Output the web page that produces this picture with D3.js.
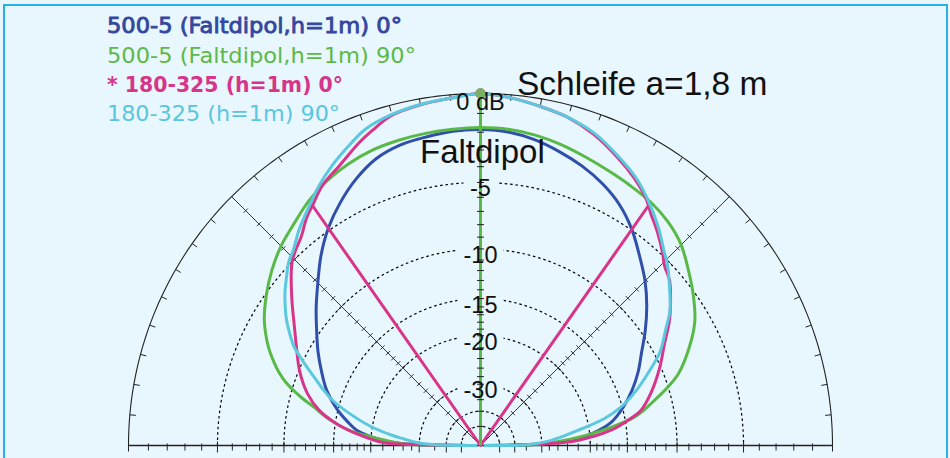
<!DOCTYPE html>
<html>
<head>
<meta charset="utf-8">
<script src="https://cdn.jsdelivr.net/npm/d3@7"></script>
<style>
  html, body { margin: 0; padding: 0; background: #e8f6fd; }
  svg { display: block; }
</style>
</head>
<body>
<svg id="chart" width="950" height="458"></svg>
<script>
// ---- Pattern data: azimuth in degrees (0 = main direction, + = right), level in dB ----
const blueAngles = [-90,-89.5,-88.5,-87,-85,-83,-80,-77,-75,-70,-65,-60,-55,-50,-45,-40,-35,-30,-25,-20,-15,-10,-5,0,5,10,15,20,25,30,35,40,45,50,55,60,65,70,75,80,83,85,87,88.5,89.5,90];
const blueDb     = [-80,-35,-25.5,-22,-19.5,-17.8,-16.5,-15.3,-14.6,-13.1,-11.95,-10.8,-9.7,-8.5,-7.3,-6.0,-4.85,-3.9,-3.08,-2.45,-2.13,-2.0,-1.88,-1.85,-1.92,-2.15,-2.5,-2.9,-3.4,-4.05,-4.95,-6.05,-7.1,-8.3,-9.6,-10.95,-12.1,-13.4,-14.9,-16.75,-18.8,-20.7,-23.8,-29,-35,-80];

const greenAngles = [-90,-89.5,-88.5,-86,-83.5,-80,-77,-75,-72,-70,-68,-65,-60,-55,-50,-45,-40,-35,-30,-25,-20,-15,-10,-5,0,5,10,15,20,25,30,35,40,45,50,55,60,65,70,73,75,78,80,82,85.3,88.2,89.5,90];
const greenDb     = [-80,-35,-25.5,-20.9,-16.9,-14.1,-12.4,-11.0,-9.3,-8.5,-7.85,-7.0,-5.9,-5.1,-4.4,-3.8,-3.33,-2.8,-2.4,-2.12,-1.93,-1.85,-1.8,-1.77,-1.75,-1.77,-1.9,-2.1,-2.35,-2.57,-2.75,-2.92,-3.22,-3.7,-4.45,-5.2,-6.05,-7.3,-8.8,-10.2,-11.3,-12.9,-14.3,-16.8,-22,-29,-35,-80];

const pinkAngles = [-90,-89,-88.2,-84.5,-81.3,-77.7,-73.3,-67.5,-62,-57.6,-51.2,-45.5,-40.4,-37.5,-35,-31.3,-26.7,-21.8,-19,-15,-10,-5,0,5,10,15,20,25.5,30,33.3,35,36.1,39.7,43.3,45.6,48.9,52.7,56.5,61,66.5,73,77.7,80.3,83.4,87,88.5,90];
const pinkDb     = [-80,-30,-22,-17.8,-15.1,-13.0,-11.45,-10.06,-9.0,-8.04,-6.4,-4.95,-4.18,-3.56,-3.15,-2.5,-1.99,-1.3,-0.95,-0.5,-0.3,-0.17,0,-0.15,-0.38,-0.62,-1.05,-1.7,-2.28,-2.8,-3.15,-3.42,-4.11,-4.85,-5.37,-5.81,-6.65,-7.56,-8.83,-10.1,-11.7,-13.1,-14.7,-17.0,-22.1,-29.3,-80];
// the 0° trace drops to the origin between these two azimuths
const pinkDropAngles = [-35, 35];

const cyanAngles = [-90,-89,-87.3,-85,-83.5,-80,-76.3,-73,-70,-68,-65,-62,-60,-57,-55,-52,-50,-46,-44,-40,-35.5,-32,-28,-24,-20,-15,-10,-5,0,5,10,15,20,25,30,34,39,43.5,46,50,54.5,58,62.5,66.7,71,74.8,77.7,81.2,86,89,90];
const cyanDb     = [-80,-35,-29.2,-26,-23.7,-19.6,-16.5,-14.1,-12.6,-11.7,-10.2,-8.75,-8.1,-7.2,-6.7,-6.0,-5.6,-4.8,-4.55,-3.8,-3.05,-2.43,-1.82,-1.28,-0.77,-0.46,-0.28,-0.17,0,-0.15,-0.38,-0.62,-0.98,-1.56,-2.18,-2.85,-3.8,-4.75,-5.2,-6.1,-7.1,-8.2,-9.5,-11.3,-13.2,-15.2,-17.5,-21.9,-27.7,-35,-80];

const legendLabels = ["500-5 (Faltdipol,h=1m) 0°", "500-5 (Faltdipol,h=1m) 90°", "* 180-325 (h=1m) 0°", "180-325 (h=1m) 90°"];

// ---- Grid definition ----
const ringLevels  = [-5, -10, -15, -20, -30, -40, -50];
const labelLevels = [0, -5, -10, -15, -20, -30];
const labelTexts  = ["0 dB", "-5", "-10", "-15", "-20", "-30"];
const tickLevels  = [-1,-2,-3,-4,-5,-6,-7,-8,-9,-10,-11,-12,-13,-14,-15,-16,-17,-18,-19,-20,-22,-24,-26,-28,-30,-35,-40,-50];
const rimTickAngles = [-85,-80,-75,-70,-65,-60,-55,-50,-45,-40,-35,-30,-25,-20,-15,-10,-5,0,5,10,15,20,25,30,35,40,45,50,55,60,65,70,75,80,85];
const spokeAngles = [-45, 45];

// ---- Layout ----
const W = 950, H = 458;
const cx = 480.5, cy = 445.5, R = 352;
const BG = "#e8f6fd";

const svg = d3.select("#chart");
svg.append("rect").attr("width", W).attr("height", H).attr("fill", BG);
svg.append("rect").attr("x", 4).attr("y", 5).attr("width", 943).attr("height", 470)
  .attr("fill", "none").attr("stroke", "#2aaee4").attr("stroke-width", 2);

const g = svg.append("g").attr("transform", `translate(${cx},${cy})`);

// ARRL-style logarithmic radius: every 2 dB down shrinks the radius by 0.89
const logRadius = d3.scaleLinear().domain([0, -2]).range([Math.log(R), Math.log(R * 0.89)]);
const rScale = d => (d === null ? 0 : Math.exp(logRadius(d)));
const angle = d3.scaleLinear().domain([-90, 90]).range([-Math.PI / 2, Math.PI / 2]);
const pt = (deg, r) => [r * Math.sin(angle(deg)), -r * Math.cos(angle(deg))];

const arcLine = d3.lineRadial().angle(d => angle(d)).curve(d3.curveLinear);
const halfCircle = d3.range(-90, 90.5, 1);

// dotted level rings
ringLevels.forEach(lv => {
  g.append("path")
    .attr("d", arcLine.radius(rScale(lv))(halfCircle))
    .attr("fill", "none").attr("stroke", "#000").attr("stroke-width", 1.2)
    .attr("stroke-dasharray", "2.6,2.8");
});

// outer 0 dB rim
g.append("path")
  .attr("d", arcLine.radius(R)(halfCircle))
  .attr("fill", "none").attr("stroke", "#222").attr("stroke-width", 1.1);

// rim ticks (inward)
rimTickAngles.forEach(a => {
  const p1 = pt(a, R), p2 = pt(a, R - 6);
  g.append("line").attr("x1", p1[0]).attr("y1", p1[1]).attr("x2", p2[0]).attr("y2", p2[1])
    .attr("stroke", "#222").attr("stroke-width", 1);
});

// baseline (±90°)
g.append("line").attr("x1", -R).attr("y1", 0).attr("x2", R).attr("y2", 0)
  .attr("stroke", "#222").attr("stroke-width", 1.3);
tickLevels.forEach(lv => {
  const r = rScale(lv);
  const big = ringLevels.includes(lv);
  [-1, 1].forEach(s => {
    g.append("line").attr("x1", s * r).attr("x2", s * r)
      .attr("y1", big ? -4 : -2).attr("y2", big ? 7 : 5)
      .attr("stroke", "#222").attr("stroke-width", 1);
  });
});
// rim end ticks on baseline
[-1, 1].forEach(s => {
  g.append("line").attr("x1", s * R).attr("x2", s * R).attr("y1", -4).attr("y2", 6)
    .attr("stroke", "#222").attr("stroke-width", 1);
});

// 45° spokes with crossing ticks
spokeAngles.forEach(a => {
  const end = pt(a, R);
  g.append("line").attr("x1", 0).attr("y1", 0).attr("x2", end[0]).attr("y2", end[1])
    .attr("stroke", "#222").attr("stroke-width", 0.9);
  const nx = Math.cos(angle(a)), ny = Math.sin(angle(a));
  tickLevels.forEach(lv => {
    const p = pt(a, rScale(lv));
    const t = ringLevels.includes(lv) ? 6 : 3;
    g.append("line")
      .attr("x1", p[0] - nx * t).attr("y1", p[1] - ny * t)
      .attr("x2", p[0] + nx * t).attr("y2", p[1] + ny * t)
      .attr("stroke", "#222").attr("stroke-width", 0.9);
  });
});

// background patches behind the level labels
const labelPos = labelLevels.map(lv => lv === 0 ? -R + 16 : -rScale(lv) + 14);
labelLevels.forEach((lv, i) => {
  if (lv === 0) return;
  const wEst = labelTexts[i].length * 12 + 6;
  g.append("rect").attr("x", -wEst / 2 - 2).attr("y", labelPos[i] - 20)
    .attr("width", wEst + 4).attr("height", 24).attr("fill", BG);
});

// ---- Pattern traces ----
const trace = d3.lineRadial()
  .angle(d => angle(d[0]))
  .radius(d => rScale(d[1]))
  .curve(d3.curveCatmullRom.alpha(0.5));
const zipSeries = (as, vs) => as.map((a, i) => [a, vs[i]]);

function drawTrace(as, vs, color) {
  g.append("path").attr("d", trace(zipSeries(as, vs)))
    .attr("fill", "none").attr("stroke", color).attr("stroke-width", 3)
    .attr("stroke-linejoin", "round");
}

drawTrace(blueAngles, blueDb, "#2f4fab");
drawTrace(greenAngles, greenDb, "#58b947");
drawTrace(pinkAngles, pinkDb, "#d8348a");

// drop of the 0° trace to the origin
const dropLine = d3.lineRadial().angle(d => angle(d[0])).radius(d => rScale(d[1])).curve(d3.curveLinear);
const dropPts = [
  [pinkDropAngles[0], pinkDb[pinkAngles.indexOf(pinkDropAngles[0])]],
  [0, null],
  [pinkDropAngles[1], pinkDb[pinkAngles.indexOf(pinkDropAngles[1])]]
];
g.append("path").attr("d", dropLine(dropPts))
  .attr("fill", "none").attr("stroke", "#d8348a").attr("stroke-width", 3).attr("stroke-linejoin", "round");

drawTrace(cyanAngles, cyanDb, "#5bc8de");

// vertical (0°) axis
g.append("line").attr("x1", 0).attr("y1", 0).attr("x2", 0).attr("y2", -R)
  .attr("stroke", "#58b947").attr("stroke-width", 3);
tickLevels.forEach(lv => {
  const y = -rScale(lv);
  g.append("line").attr("x1", -3.5).attr("x2", 3.5).attr("y1", y).attr("y2", y)
    .attr("stroke", "#222").attr("stroke-width", 1);
});

// marker at 0 dB
g.append("circle").attr("cx", 0).attr("cy", -R).attr("r", 5)
  .attr("fill", "#78b160").attr("stroke", "#8a9a80").attr("stroke-width", 1);

// level labels
labelLevels.forEach((lv, i) => {
  g.append("text").attr("x", 0).attr("y", labelPos[i])
    .attr("text-anchor", "middle")
    .attr("font-family", "Liberation Sans, Arial, sans-serif")
    .attr("font-size", 23.5).attr("fill", "#111")
    .text(labelTexts[i]);
});

// annotations
svg.append("text").attr("x", 420).attr("y", 163)
  .attr("font-family", "Liberation Sans, Arial, sans-serif").attr("font-size", 33)
  .attr("fill", "#111").text("Faltdipol");
svg.append("text").attr("x", 517).attr("y", 95)
  .attr("font-family", "Liberation Sans, Arial, sans-serif").attr("font-size", 33.5)
  .attr("fill", "#111").text("Schleife a=1,8 m");

// legend
const legendColors = ["#34479f", "#5cb947", "#d6358a", "#58c6dc"];
const legendWidths = [295, 309, 236, 233];
const legendY = [33, 63, 92, 121];
legendLabels.forEach((t, i) => {
  const txt = svg.append("text").attr("x", 107).attr("y", legendY[i])
    .attr("font-family", "DejaVu Sans, Verdana, sans-serif")
    .attr("font-size", i === 2 ? 20.5 : 22)
    .attr("font-weight", i === 2 ? "bold" : "normal")
    .attr("fill", legendColors[i])
    .attr("textLength", legendWidths[i])
    .attr("lengthAdjust", "spacingAndGlyphs")
    .text(t);
  if (i === 0) txt.attr("stroke", legendColors[i]).attr("stroke-width", 0.9);
});
</script>
</body>
</html>
